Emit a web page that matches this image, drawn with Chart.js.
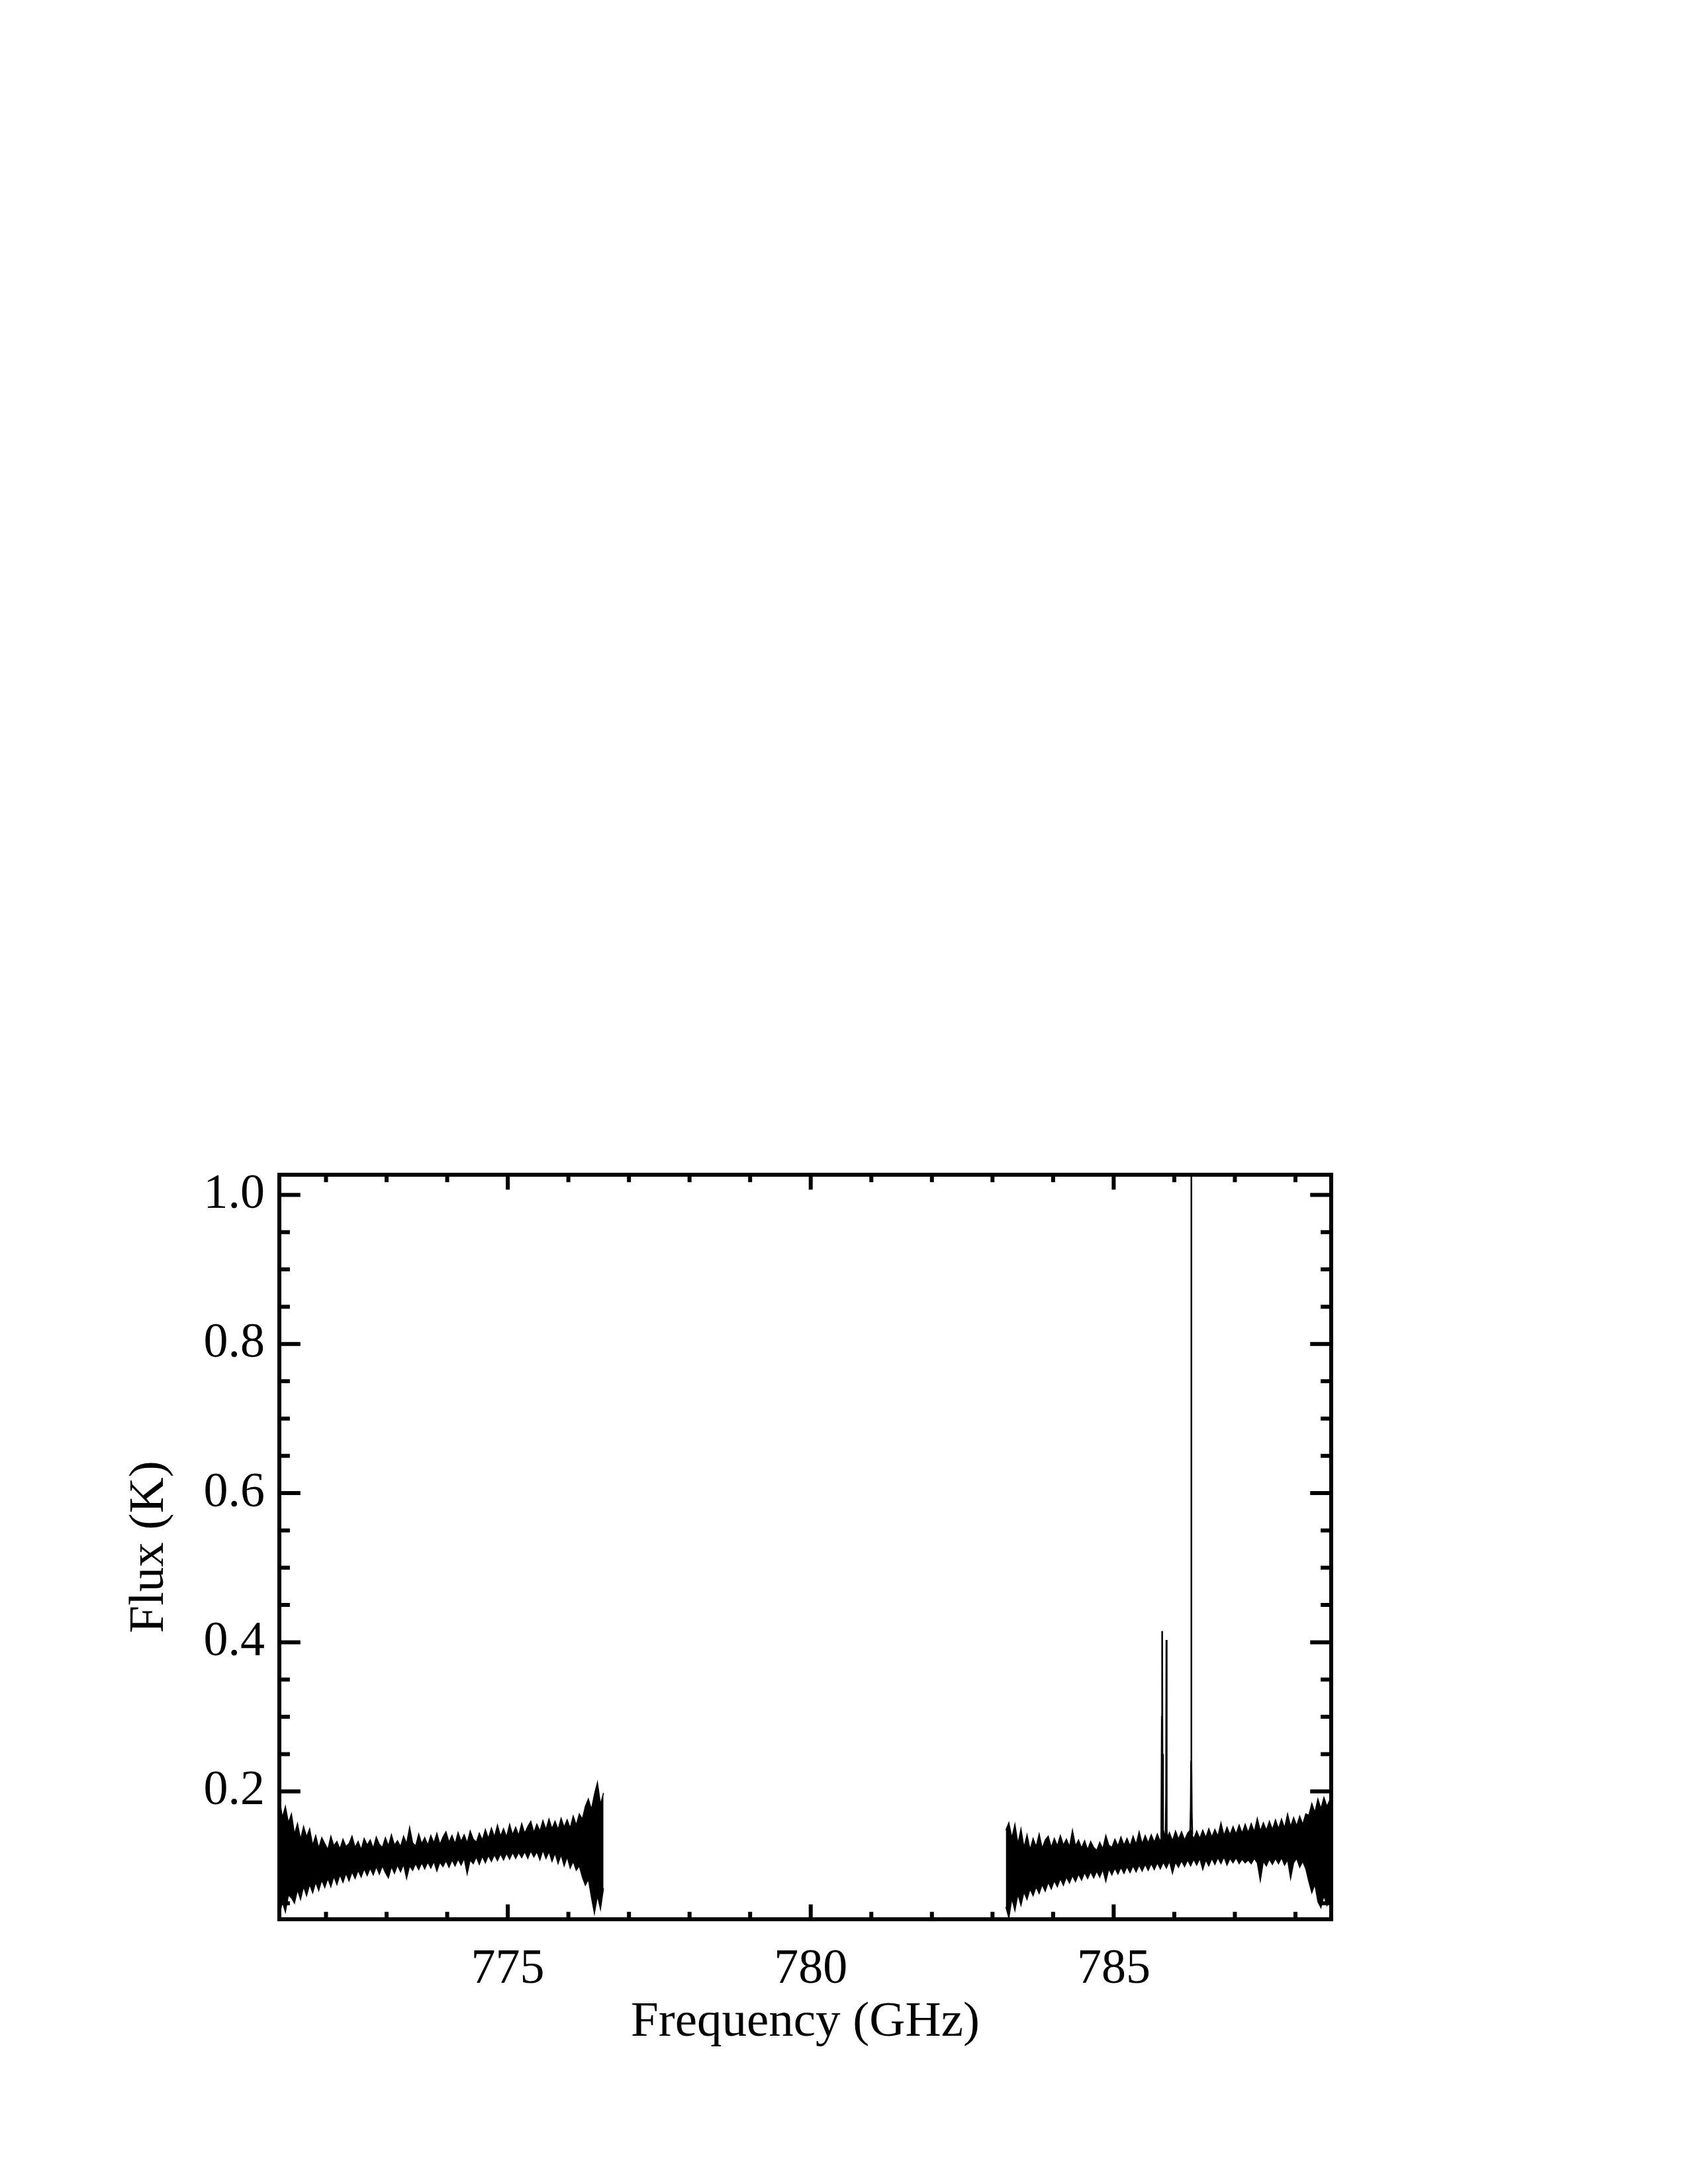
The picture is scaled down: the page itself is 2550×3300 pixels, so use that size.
<!DOCTYPE html>
<html>
<head>
<meta charset="utf-8">
<script src="https://cdn.jsdelivr.net/npm/chart.js@4.4.1/dist/chart.umd.min.js"></script>
<style>
  html, body { margin: 0; padding: 0; background: #fff; }
  #spec { display: block; }
</style>
</head>
<body>
<canvas id="spec" width="2550" height="3300"></canvas>
<script>
// channel grid of the two sidebands (GHz)
const chanStep = 0.05;
const lsbStart = 771.23;
const usbStart = 783.22;

// top / bottom edge of the noise band (K), one per channel
const lsbUpper = [
  0.192, 0.165, 0.180, 0.158, 0.170, 0.143, 0.157, 0.136, 0.153, 0.139,
  0.150, 0.128, 0.141, 0.124, 0.138, 0.130, 0.122, 0.140, 0.127, 0.133,
  0.123, 0.136, 0.126, 0.130, 0.140, 0.125, 0.133, 0.122, 0.137, 0.128,
  0.135, 0.124, 0.139, 0.129, 0.125, 0.138, 0.127, 0.142, 0.128, 0.134,
  0.126, 0.140, 0.130, 0.152, 0.131, 0.127, 0.143, 0.130, 0.138, 0.128,
  0.141, 0.131, 0.144, 0.129, 0.139, 0.146, 0.132, 0.141, 0.130, 0.145,
  0.133, 0.142, 0.131, 0.147, 0.136, 0.132, 0.144, 0.135, 0.149, 0.137,
  0.151, 0.139, 0.155, 0.140, 0.150, 0.139, 0.156, 0.142, 0.152, 0.141,
  0.157, 0.144, 0.153, 0.160, 0.145, 0.156, 0.147, 0.161, 0.149, 0.163,
  0.150, 0.160, 0.149, 0.164, 0.152, 0.162, 0.151, 0.167, 0.155, 0.170,
  0.163, 0.180, 0.190, 0.176, 0.196, 0.212, 0.183, 0.198
];
const lsbLower = [
  0.033, 0.052, 0.038, 0.061, 0.057, 0.050, 0.068, 0.055, 0.072, 0.060,
  0.075, 0.064, 0.078, 0.067, 0.081, 0.071, 0.083, 0.072, 0.086, 0.075,
  0.088, 0.078, 0.090, 0.080, 0.092, 0.083, 0.094, 0.085, 0.096, 0.087,
  0.097, 0.088, 0.099, 0.089, 0.100, 0.091, 0.084, 0.099, 0.090, 0.101,
  0.092, 0.102, 0.083, 0.100, 0.094, 0.103, 0.095, 0.104, 0.096, 0.105,
  0.097, 0.106, 0.093, 0.105, 0.099, 0.107, 0.098, 0.108, 0.100, 0.109,
  0.101, 0.110, 0.089, 0.108, 0.103, 0.112, 0.102, 0.113, 0.104, 0.114,
  0.106, 0.115, 0.107, 0.116, 0.108, 0.117, 0.109, 0.118, 0.110, 0.118,
  0.111, 0.119, 0.110, 0.120, 0.112, 0.119, 0.108, 0.121, 0.110, 0.119,
  0.106, 0.117, 0.103, 0.115, 0.100, 0.112, 0.097, 0.106, 0.094, 0.100,
  0.085, 0.074, 0.082, 0.058, 0.036, 0.060, 0.042, 0.070
];
const usbUpper = [
  0.148, 0.158, 0.138, 0.156, 0.130, 0.150, 0.125, 0.142, 0.122, 0.137,
  0.126, 0.143, 0.124, 0.135, 0.140, 0.125, 0.137, 0.127, 0.141, 0.128,
  0.136, 0.126, 0.148, 0.127, 0.135, 0.124, 0.134, 0.122, 0.133, 0.125,
  0.121, 0.132, 0.123, 0.141, 0.128, 0.125, 0.136, 0.127, 0.139, 0.128,
  0.137, 0.127, 0.140, 0.129, 0.146, 0.130, 0.141, 0.131, 0.142, 0.132,
  0.143, 0.133, 0.148, 0.135, 0.145, 0.134, 0.147, 0.136, 0.146, 0.135,
  0.144, 0.149, 0.136, 0.147, 0.137, 0.148, 0.138, 0.150, 0.139, 0.149,
  0.140, 0.158, 0.141, 0.152, 0.142, 0.153, 0.143, 0.155, 0.144, 0.156,
  0.145, 0.157, 0.146, 0.164, 0.147, 0.158, 0.148, 0.160, 0.149, 0.162,
  0.150, 0.163, 0.151, 0.170, 0.153, 0.165, 0.154, 0.167, 0.156, 0.170,
  0.168, 0.184, 0.172, 0.190, 0.177, 0.192, 0.180, 0.189
];
const usbLower = [
  0.045, 0.030, 0.056, 0.040, 0.062, 0.047, 0.065, 0.055, 0.069, 0.060,
  0.072, 0.063, 0.075, 0.066, 0.078, 0.069, 0.080, 0.072, 0.083, 0.074,
  0.085, 0.077, 0.087, 0.079, 0.089, 0.081, 0.091, 0.083, 0.092, 0.084,
  0.093, 0.085, 0.095, 0.079, 0.096, 0.088, 0.097, 0.089, 0.098, 0.090,
  0.099, 0.091, 0.100, 0.092, 0.101, 0.093, 0.102, 0.094, 0.103, 0.095,
  0.104, 0.096, 0.105, 0.097, 0.106, 0.090, 0.105, 0.098, 0.107, 0.099,
  0.108, 0.100, 0.109, 0.101, 0.110, 0.095, 0.108, 0.100, 0.110, 0.102,
  0.111, 0.103, 0.112, 0.101, 0.110, 0.104, 0.111, 0.103, 0.109, 0.104,
  0.108, 0.103, 0.110, 0.104, 0.080, 0.106, 0.100, 0.109, 0.102, 0.110,
  0.103, 0.111, 0.101, 0.108, 0.083, 0.104, 0.110, 0.098, 0.106, 0.096,
  0.079, 0.064, 0.075, 0.052, 0.044, 0.060, 0.047, 0.056
];

// the three emission lines, null = break between them
const lineFreq = [785.785, 785.795, 785.800, 785.805, 785.815, null,
                  785.855, 785.865, 785.870, 785.875, 785.885, null,
                  786.262, 786.272, 786.277, 786.280, 786.284, 786.289, 786.298];
const lineFlux = [0.130, 0.300, 0.415, 0.250, 0.128, null,
                  0.132, 0.195, 0.403, 0.150, 0.130, null,
                  0.140, 0.180, 0.240, 1.027, 0.245, 0.170, 0.142];

// axes
const xRange = [771.23, 788.59];
const yRange = [0.0285, 1.027];
const xMajor = [775, 780, 785];
const xMinor = [772, 773, 774, 776, 777, 778, 779, 781, 782, 783, 784, 786, 787, 788];
const yMajor = [0.2, 0.4, 0.6, 0.8, 1.0];
const yMinor = [0.05, 0.10, 0.15, 0.25, 0.30, 0.35, 0.45, 0.50, 0.55, 0.65, 0.70, 0.75, 0.85, 0.90, 0.95];

function toPoints(start, vals) {
    return vals.map((v, i) => ({ x: start + i * chanStep, y: v }));
}

function bandSets(start, upper, lower) {
    const common = { borderColor: '#000', borderWidth: 1.5, pointRadius: 0, tension: 0 };
    return [
        Object.assign({ data: toPoints(start, upper), fill: '+1', backgroundColor: '#000' }, common),
        Object.assign({ data: toPoints(start, lower), fill: false }, common)
    ];
}

const linePoints = lineFreq.map((f, i) => ({
    x: f === null ? lineFreq[i - 1] : f,
    y: lineFlux[i]
}));

// IDL style box: thick frame with inward ticks on all four sides
const idlFrame = {
    id: 'idlFrame',
    afterDatasetsDraw(chart) {
        const { ctx, chartArea: a } = chart;
        const xs = chart.scales.x, ys = chart.scales.y;
        const w = a.right - a.left, h = a.bottom - a.top;
        const xLen = 0.02 * h, yLen = 0.02 * w;
        ctx.save();
        ctx.strokeStyle = '#000';
        ctx.lineWidth = 6;
        ctx.lineJoin = 'miter';
        ctx.strokeRect(a.left, a.top, w, h);
        ctx.lineCap = 'butt';
        ctx.beginPath();
        const xTick = (v, len) => {
            const px = xs.getPixelForValue(v);
            ctx.moveTo(px, a.bottom); ctx.lineTo(px, a.bottom - len);
            ctx.moveTo(px, a.top); ctx.lineTo(px, a.top + len);
        };
        const yTick = (v, len) => {
            const py = ys.getPixelForValue(v);
            ctx.moveTo(a.left, py); ctx.lineTo(a.left + len, py);
            ctx.moveTo(a.right, py); ctx.lineTo(a.right - len, py);
        };
        xMajor.forEach(v => xTick(v, xLen));
        xMinor.forEach(v => xTick(v, xLen / 2));
        yMajor.forEach(v => yTick(v, yLen));
        yMinor.forEach(v => yTick(v, yLen / 2));
        ctx.stroke();
        ctx.restore();
    }
};

const tickFont = { family: 'Liberation Serif', size: 74 };
const titleFont = { family: 'Liberation Serif', size: 75 };

new Chart(document.getElementById('spec').getContext('2d'), {
    type: 'line',
    data: {
        datasets: [
            ...bandSets(lsbStart, lsbUpper, lsbLower),
            ...bandSets(usbStart, usbUpper, usbLower),
            { data: linePoints, borderColor: '#000', borderWidth: 2.5, pointRadius: 0, fill: false, spanGaps: false, tension: 0 }
        ]
    },
    options: {
        responsive: false,
        animation: false,
        devicePixelRatio: 1,
        layout: { padding: { left: 0, top: 1775, right: 539, bottom: 0 } },
        plugins: {
            legend: { display: false },
            tooltip: { enabled: false }
        },
        scales: {
            x: {
                type: 'linear',
                min: xRange[0],
                max: xRange[1],
                grid: { display: false, drawTicks: false },
                border: { display: false },
                afterBuildTicks: s => { s.ticks = xMajor.map(v => ({ value: v })); },
                afterFit: s => { s.height = 400; },
                ticks: { font: tickFont, color: '#000', padding: 32, maxRotation: 0, autoSkip: false,
                         callback: v => String(v) },
                title: { display: true, text: 'Frequency (GHz)', font: titleFont, color: '#000', padding: 199 }
            },
            y: {
                type: 'linear',
                min: yRange[0],
                max: yRange[1],
                grid: { display: false, drawTicks: false },
                border: { display: false },
                afterBuildTicks: s => { s.ticks = yMajor.map(v => ({ value: v })); },
                afterFit: s => { s.width = 422; },
                ticks: { font: tickFont, color: '#000', padding: 22, autoSkip: false,
                         callback: v => v.toFixed(1) },
                title: { display: true, text: 'Flux (K)', font: titleFont, color: '#000', padding: 181 }
            }
        }
    },
    plugins: [idlFrame]
});
</script>
</body>
</html>
